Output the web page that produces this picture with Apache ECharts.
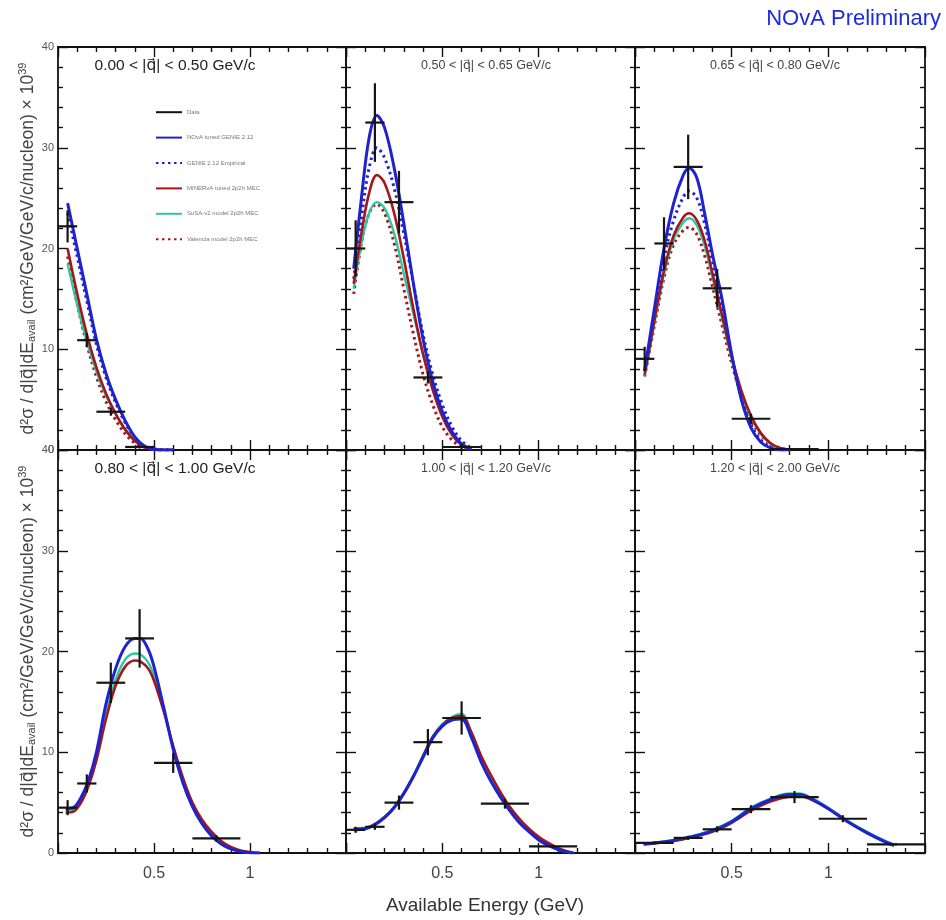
<!DOCTYPE html>
<html>
<head>
<meta charset="utf-8">
<title>NOvA double-differential cross section</title>
<script src="https://cdn.jsdelivr.net/npm/echarts@6/dist/echarts.min.js"></script>
<style>
  html, body { margin: 0; padding: 0; background: #fff; }
  #chart { width: 946px; height: 920px; }
</style>
</head>
<body>
<div id="chart"></div>
<script>
// model names (legend order)
const modelNames = ["Data", "NOvA tuned GENIE 2.12", "GENIE 2.12 Empirical",
  "MINERvA tuned 2p2h MEC", "SuSA-v2 model 2p2h MEC", "Valencia model 2p2h MEC"];

const panelTitles = ["0.00 < |q\u20d7| < 0.50 GeV/c", "0.50 < |q\u20d7| < 0.65 GeV/c",
  "0.65 < |q\u20d7| < 0.80 GeV/c", "0.80 < |q\u20d7| < 1.00 GeV/c",
  "1.00 < |q\u20d7| < 1.20 GeV/c", "1.20 < |q\u20d7| < 2.00 GeV/c"];

// ---- panel 1: 0.00 < |q| < 0.50
const q1X = [0.05, 0.15, 0.275, 0.425];
const q1Xerr = [0.05, 0.05, 0.075, 0.075];
const q1Y = [22.2, 10.9, 3.8, 0.3];
const q1Yerr = [1.6, 0.7, 0.4, 0.15];
const q1E = [0.05, 0.1, 0.15, 0.2, 0.25, 0.3, 0.35, 0.4, 0.45, 0.5, 0.55, 0.6];
const q1Nova = [24.5, 20.0, 15.5, 11.0, 7.6, 5.0, 2.9, 1.3, 0.4, 0.05, 0, 0];
const q1Genie = [23.5, 19.2, 14.8, 10.5, 7.2, 4.7, 2.7, 1.2, 0.4, 0.1, 0, 0];
const q1Minerva = [20.0, 15.5, 11.5, 8.2, 5.6, 3.6, 2.0, 0.9, 0.3, 0.05, 0, 0];
const q1Susa = [18.5, 14.4, 10.8, 7.8, 5.4, 3.6, 2.1, 1.0, 0.35, 0.05, 0, 0];
const q1Valencia = [19.2, 14.5, 10.5, 7.3, 4.8, 3.0, 1.6, 0.7, 0.3, 0.1, 0.03, 0];

// ---- panel 2: 0.50 < |q| < 0.65
const q2X = [0.05, 0.15, 0.275, 0.425, 0.6];
const q2Xerr = [0.05, 0.05, 0.075, 0.075, 0.1];
const q2Y = [20.0, 32.5, 24.6, 7.2, 0.3];
const q2Yerr = [2.8, 3.9, 3.1, 0.6, 0.3];
const q2E = [0.04, 0.08, 0.12, 0.16, 0.2, 0.25, 0.3, 0.35, 0.4, 0.45, 0.5, 0.55, 0.6, 0.65];
const q2Nova = [18.0, 25.0, 31.0, 33.2, 32.0, 28.0, 22.5, 16.5, 11.0, 6.8, 3.8, 1.8, 0.6, 0.1];
const q2Genie = [17.0, 23.0, 28.0, 30.0, 29.0, 26.0, 21.5, 16.5, 11.5, 7.5, 4.5, 2.3, 0.9, 0.2];
const q2Minerva = [16.5, 21.5, 25.5, 27.3, 26.5, 23.5, 19.0, 14.0, 9.5, 6.0, 3.3, 1.5, 0.5, 0.1];
const q2Susa = [16.0, 20.5, 23.5, 24.6, 24.0, 21.5, 17.5, 13.5, 9.5, 6.0, 3.4, 1.6, 0.5, 0.1];
const q2Valencia = [15.5, 20.5, 23.5, 24.4, 23.5, 20.5, 16.0, 11.5, 7.5, 4.5, 2.3, 1.0, 0.3, 0.05];

// ---- panel 3: 0.65 < |q| < 0.80
const q3X = [0.05, 0.15, 0.275, 0.425, 0.6, 0.825];
const q3Xerr = [0.05, 0.05, 0.075, 0.075, 0.1, 0.125];
const q3Y = [9.05, 20.5, 28.1, 16.05, 3.1, 0.1];
const q3Yerr = [1.2, 2.6, 3.2, 1.9, 0.5, 0.1];
const q3E = [0.05, 0.1, 0.15, 0.2, 0.25, 0.28, 0.32, 0.36, 0.4, 0.45, 0.5, 0.55, 0.6, 0.65, 0.7, 0.75, 0.8];
const q3Nova = [7.9, 14.0, 20.0, 24.5, 27.3, 28.0, 27.0, 23.5, 19.5, 15.0, 9.5, 5.0, 2.2, 0.8, 0.2, 0, 0];
const q3Genie = [7.8, 13.5, 19.0, 22.8, 25.1, 25.7, 25.0, 22.5, 18.8, 14.0, 9.3, 5.3, 2.5, 1.0, 0.3, 0.05, 0];
const q3Minerva = [7.5, 12.8, 17.8, 21.3, 23.1, 23.5, 22.8, 20.8, 17.6, 13.4, 9.3, 5.9, 3.4, 1.7, 0.7, 0.2, 0.05];
const q3Susa = [7.4, 12.6, 17.5, 20.9, 22.6, 23.0, 22.3, 20.3, 17.2, 13.1, 9.1, 5.8, 3.3, 1.6, 0.6, 0.2, 0];
const q3Valencia = [7.3, 12.3, 17.1, 20.4, 21.8, 22.1, 21.4, 19.3, 16.3, 12.4, 8.6, 5.4, 3.0, 1.5, 0.6, 0.2, 0];

// ---- panel 4: 0.80 < |q| < 1.00
const q4X = [0.05, 0.15, 0.275, 0.425, 0.6, 0.825];
const q4Xerr = [0.05, 0.05, 0.075, 0.075, 0.1, 0.125];
const q4Y = [4.5, 6.9, 16.9, 21.3, 8.95, 1.45];
const q4Yerr = [0.75, 0.9, 2.0, 2.9, 1.0, 0.3];
const q4E = [0.04, 0.08, 0.12, 0.16, 0.2, 0.25, 0.3, 0.35, 0.4, 0.43, 0.47, 0.5, 0.55, 0.6, 0.65, 0.7, 0.75, 0.8, 0.85, 0.9, 0.95, 1.0, 1.05];
const q4Nova = [4.4, 4.5, 5.5, 7.3, 10.0, 14.8, 18.3, 20.5, 21.3, 21.3, 20.2, 18.5, 14.5, 10.3, 7.0, 4.6, 2.9, 1.7, 0.9, 0.4, 0.15, 0.03, 0];
const q4Susa = [4.2, 4.3, 5.2, 6.9, 9.5, 13.8, 17.2, 19.2, 19.8, 19.7, 18.9, 17.6, 14.3, 10.6, 7.4, 4.9, 3.2, 2.0, 1.1, 0.5, 0.2, 0.05, 0];
const q4Minerva = [4.0, 4.1, 5.0, 6.7, 9.2, 13.3, 16.6, 18.5, 19.1, 19.0, 18.3, 17.1, 14.1, 10.6, 7.5, 5.0, 3.3, 2.1, 1.2, 0.6, 0.25, 0.08, 0];

// ---- panel 5: 1.00 < |q| < 1.20
const q5X = [0.05, 0.15, 0.275, 0.425, 0.6, 0.825, 1.075];
const q5Xerr = [0.05, 0.05, 0.075, 0.075, 0.1, 0.125, 0.125];
const q5Y = [2.3, 2.6, 5.0, 11.0, 13.4, 4.9, 0.65];
const q5Yerr = [0.3, 0.3, 0.7, 1.3, 1.65, 0.5, 0.15];
const q5E = [0.04, 0.1, 0.15, 0.2, 0.25, 0.3, 0.35, 0.4, 0.45, 0.5, 0.55, 0.6, 0.65, 0.7, 0.75, 0.8, 0.85, 0.9, 0.95, 1.0, 1.05, 1.1, 1.15, 1.18];
const q5Susa = [2.45, 2.5, 2.9, 3.6, 4.6, 6.0, 7.7, 9.7, 11.6, 12.8, 13.5, 13.8, 12.0, 9.6, 7.7, 6.0, 4.5, 3.3, 2.3, 1.5, 0.9, 0.45, 0.12, 0];
const q5Minerva = [2.4, 2.45, 2.85, 3.55, 4.5, 5.9, 7.6, 9.6, 11.5, 12.7, 13.4, 13.6, 12.0, 9.7, 7.8, 6.1, 4.6, 3.4, 2.4, 1.6, 1.0, 0.5, 0.15, 0.02];
const q5Nova = [2.3, 2.4, 2.8, 3.5, 4.5, 5.9, 7.6, 9.5, 11.4, 12.6, 13.2, 13.3, 11.5, 9.1, 7.2, 5.6, 4.2, 3.0, 2.1, 1.3, 0.75, 0.35, 0.08, 0];

// ---- panel 6: 1.20 < |q| < 2.00
const q6X = [0.1, 0.275, 0.425, 0.6, 0.825, 1.075, 1.35];
const q6Xerr = [0.1, 0.075, 0.075, 0.1, 0.125, 0.125, 0.15];
const q6Y = [1.0, 1.5, 2.35, 4.35, 5.55, 3.4, 0.85];
const q6Yerr = [0.15, 0.2, 0.3, 0.4, 0.6, 0.35, 0.1];
const q6E = [0.045, 0.1, 0.2, 0.3, 0.4, 0.5, 0.6, 0.7, 0.8, 0.85, 0.9, 1.0, 1.1, 1.2, 1.3, 1.34];
const q6Susa = [0.9, 1.0, 1.3, 1.7, 2.3, 3.2, 4.5, 5.4, 5.9, 5.9, 5.6, 4.5, 3.2, 2.1, 1.15, 0.85];
const q6Minerva = [0.85, 0.95, 1.2, 1.6, 2.1, 3.0, 4.2, 5.1, 5.6, 5.65, 5.4, 4.4, 3.1, 2.0, 1.05, 0.75];
const q6Nova = [0.9, 1.0, 1.25, 1.65, 2.2, 3.1, 4.4, 5.3, 5.8, 5.8, 5.5, 4.4, 3.1, 2.0, 1.05, 0.75];

const panels = [
  { title: panelTitles[0], x: q1X, xe: q1Xerr, y: q1Y, ye: q1Yerr, e: q1E,
    curves: [q1Nova, q1Genie, q1Minerva, q1Susa, q1Valencia] },
  { title: panelTitles[1], x: q2X, xe: q2Xerr, y: q2Y, ye: q2Yerr, e: q2E,
    curves: [q2Nova, q2Genie, q2Minerva, q2Susa, q2Valencia] },
  { title: panelTitles[2], x: q3X, xe: q3Xerr, y: q3Y, ye: q3Yerr, e: q3E,
    curves: [q3Nova, q3Genie, q3Minerva, q3Susa, q3Valencia] },
  { title: panelTitles[3], x: q4X, xe: q4Xerr, y: q4Y, ye: q4Yerr, e: q4E,
    curves: [q4Nova, null, q4Minerva, q4Susa, null] },
  { title: panelTitles[4], x: q5X, xe: q5Xerr, y: q5Y, ye: q5Yerr, e: q5E,
    curves: [q5Nova, null, q5Minerva, q5Susa, null] },
  { title: panelTitles[5], x: q6X, xe: q6Xerr, y: q6Y, ye: q6Yerr, e: q6E,
    curves: [q6Nova, null, q6Minerva, q6Susa, null] }
];

// styling of the model curves: [color, dash, width]
const curveStyle = [
  ["#1f22cf", "solid", 3],
  ["#1f22cf", [2.5, 3.5], 3],
  ["#a3161b", "solid", 2.6],
  ["#2fc7a2", "solid", 2.4],
  ["#a3161b", [2.5, 3.5], 3]
];
const drawOrder = [4, 1, 3, 2, 0];

const FONT = "'Liberation Sans', 'DejaVu Sans', sans-serif";
const cols = [{ left: 58, width: 288 }, { left: 346, width: 289 }, { left: 635, width: 290 }];
const rows = [{ top: 47, height: 403 }, { top: 450, height: 403 }];

const yTitle = "d\u00b2\u03c3 / d|q\u20d7|dE{sub|avail} (cm\u00b2/GeV/GeV/c/nucleon) \u00d7 10{sup|39}";

function renderCross(params, api) {
  const x = api.value(0), y = api.value(1), xe = api.value(2), ye = api.value(3);
  const l = api.coord([x - xe, y]), r = api.coord([x + xe, y]);
  const t = api.coord([x, y + ye]), b = api.coord([x, Math.max(0, y - ye)]);
  const st = { stroke: "#151515", lineWidth: 2.2 };
  return {
    type: "group",
    children: [
      { type: "line", shape: { x1: l[0], y1: l[1], x2: r[0], y2: r[1] }, style: st },
      { type: "line", shape: { x1: t[0], y1: t[1], x2: b[0], y2: b[1] }, style: st }
    ]
  };
}

const tickStyle = { color: "#111", width: 1.4 };
const grid = [], xAxis = [], yAxis = [], series = [], graphic = [];

// dummy entry so the legend shows a black line for the data
series.push({ name: "Data", type: "line", data: [], symbol: "none",
  xAxisIndex: 0, yAxisIndex: 0, itemStyle: { color: "#111" }, lineStyle: { color: "#111", width: 3 } });

panels.forEach(function (p, i) {
  const r = Math.floor(i / 3), c = i % 3;
  grid.push({ left: cols[c].left, width: cols[c].width, top: rows[r].top, height: rows[r].height });

  const xBase = {
    gridIndex: i, type: "value", min: 0, max: 1.5, interval: 0.5,
    axisLine: { onZero: false, lineStyle: { color: "#111", width: 1.8 } },
    axisTick: { inside: true, length: 10, lineStyle: tickStyle },
    minorTick: { show: true, splitNumber: 5, length: 5, lineStyle: tickStyle },
    splitLine: { show: false }
  };
  xAxis.push(Object.assign({}, xBase, {
    position: "bottom",
    axisLabel: { show: r === 1, showMinLabel: false, showMaxLabel: false,
      fontSize: 16, color: "#444", margin: 13, fontFamily: FONT }
  }));
  xAxis.push(Object.assign({}, xBase, { position: "top", axisLabel: { show: false } }));

  const yBase = {
    gridIndex: i, type: "value", min: 0, max: 40, interval: 10,
    axisLine: { show: true, onZero: false, lineStyle: { color: "#111", width: 1.8 } },
    axisTick: { show: true, inside: true, length: 10, lineStyle: tickStyle },
    minorTick: { show: true, splitNumber: 5, length: 5, lineStyle: tickStyle },
    splitLine: { show: false }
  };
  const left = Object.assign({}, yBase, {
    position: "left",
    axisLabel: { show: c === 0, fontSize: 11, color: "#555", margin: 4, fontFamily: FONT }
  });
  if (c === 0) {
    Object.assign(left, {
      name: yTitle, nameLocation: "middle", nameRotate: 90, nameGap: 18,
      nameTextStyle: {
        fontSize: 17.5, color: "#444", fontFamily: FONT,
        rich: {
          sub: { fontSize: 11, color: "#444", fontFamily: FONT, verticalAlign: "bottom", padding: [9, 0, 0, 0] },
          sup: { fontSize: 11, color: "#444", fontFamily: FONT, verticalAlign: "top", padding: [0, 0, 9, 0] }
        }
      }
    });
  }
  yAxis.push(left);
  yAxis.push(Object.assign({}, yBase, { position: "right", axisLabel: { show: false } }));

  drawOrder.forEach(function (k) {
    const ys = p.curves[k];
    if (!ys) return;
    const s = curveStyle[k];
    series.push({
      name: modelNames[k + 1], type: "line", smooth: 0.35, symbol: "none",
      xAxisIndex: 2 * i, yAxisIndex: 2 * i,
      itemStyle: { color: s[0] },
      lineStyle: { color: s[0], type: s[1], width: s[2] },
      data: p.e.map(function (x, j) { return [x, ys[j]]; }),
      z: 2
    });
  });

  series.push({
    name: "data points", type: "custom", renderItem: renderCross,
    xAxisIndex: 2 * i, yAxisIndex: 2 * i, z: 5,
    data: p.x.map(function (x, j) { return [x, p.y[j], p.xe[j], p.ye[j]]; })
  });

  const big = c === 0;
  graphic.push({
    type: "text",
    x: cols[c].left + (big ? 117 : 140),
    y: rows[r].top + 19,
    style: {
      text: p.title, textAlign: "center", textVerticalAlign: "middle",
      fontSize: big ? 15.5 : 12.5, fontFamily: FONT,
      fill: big ? "#222" : "#444"
    }
  });
});

graphic.push({
  type: "text", x: 941, y: 19,
  style: { text: "NOvA Preliminary", textAlign: "right", textVerticalAlign: "middle",
    fontSize: 22, fontFamily: FONT, fill: "#1c2be0" }
});
graphic.push({
  type: "text", x: 485, y: 906,
  style: { text: "Available Energy (GeV)", textAlign: "center", textVerticalAlign: "middle",
    fontSize: 19, fontFamily: FONT, fill: "#333" }
});

const chart = echarts.init(document.getElementById("chart"));
chart.setOption({
  backgroundColor: "#fff",
  animation: false,
  textStyle: { fontFamily: FONT },
  legend: {
    data: modelNames, orient: "vertical", left: 150, top: 104,
    itemWidth: 26, itemHeight: 8, itemGap: 19,
    itemStyle: { opacity: 0 },
    textStyle: { fontSize: 6, color: "#777" }
  },
  grid: grid,
  xAxis: xAxis,
  yAxis: yAxis,
  series: series,
  graphic: graphic
});
</script>
</body>
</html>
